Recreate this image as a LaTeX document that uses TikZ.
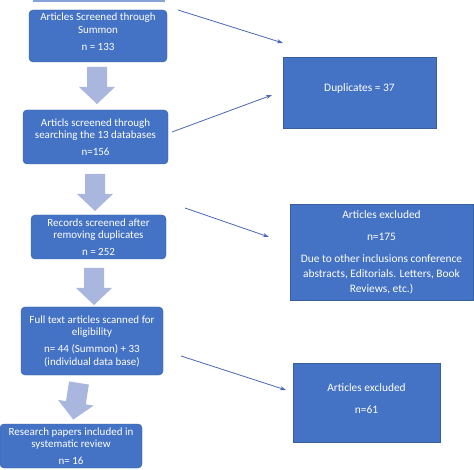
\documentclass[tikz,border=0pt]{standalone}
\usepackage{fontspec}
\setmainfont{Carlito}
\usetikzlibrary{arrows.meta}
\definecolor{boxblue}{HTML}{4472C4}
\definecolor{boxedge}{HTML}{3A5D9C}
\definecolor{arrowfill}{HTML}{A9B6DE}
\definecolor{linkblue}{HTML}{4A67B5}
\begin{document}
\begin{tikzpicture}[x=1pt,y=-1pt]

    \tikzset{
      stepbox/.style={
        draw=boxedge,
        fill=boxblue,
        text=white,
        rounded corners=4pt,
        align=center,
        inner sep=0pt,
        font=\fontsize{11}{12.5}\selectfont,
      },
      outbox/.style={
        draw=boxedge,
        fill=boxblue,
        text=white,
        align=center,
        inner sep=0pt,
        font=\fontsize{11.4}{15}\selectfont,
      },
      link/.style={
        draw=linkblue,
        line width=0.8pt,
        -{Stealth[length=6pt,width=4pt]},
      },
      downarrow/.pic={
        \fill[arrowfill] (-10,0) -- (10,0) -- (10,20) -- (18,20) -- (0,37)
          -- (-18,20) -- (-10,20) -- cycle;
      },
    }
    \useasboundingbox (0,0) rectangle (474,470);
    \fill[boxblue!65!white] (33,0) rectangle (165,2.5);

    % main column
    \node[stepbox, minimum width=138pt, minimum height=52pt] (screen) at (98,36)
      {Articles Screened through\\Summon\\[4.5pt]n = 133\\[-3.5pt]};
    \node[stepbox, minimum width=145pt, minimum height=54pt] (search) at (95.5,137)
      {Articls screened through\\searching the 13 databases\\[4.5pt]n=156};
    \node[stepbox, minimum width=135pt, minimum height=44pt] (records) at (98.5,237)
      {Records screened after\\removing duplicates\\[4.5pt]n = 252};
    \node[stepbox, minimum width=142pt, minimum height=68pt] (fulltext) at (92,341)
      {Full text articles scanned for\\eligibility\\[4.5pt]n= 44 (Summon) + 33\\(individual data base)};
    \node[stepbox, minimum width=142pt, minimum height=44pt] (included) at (71,446)
      {Research papers included in\\systematic review\\[4.5pt]n= 16};

    \pic at (97,67) {downarrow};
    \pic at (95,174) {downarrow};
    \pic at (94,268) {downarrow};
    \pic[rotate=-9] at (79,383) {downarrow};

    % side boxes
    \node[outbox, minimum width=153pt, minimum height=71pt] (dups) at (359.5,92.5)
      {Duplicates = 37\\[-6pt]};
    \node[outbox, minimum width=183pt, minimum height=96pt] (excl) at (381.5,252)
      {Articles excluded\\[7pt]n=175\\[7pt]Due to other inclusions conference\\abstracts, Editorials. Letters, Book\\Reviews, etc.)};
    \node[outbox, minimum width=147pt, minimum height=79pt] (exclft) at (366.5,402.5)
      {Articles excluded\\[7pt]n=61\\[-7pt]};

    \coordinate (s1) at (178,10);   \coordinate (e1) at (283,43);
    \coordinate (s2) at (172,132);  \coordinate (e2) at (272,95);
    \coordinate (s3) at (185,208);  \coordinate (e3) at (269,237);
    \coordinate (s4) at (181,356);  \coordinate (e4) at (286,390);
    \draw[link] (s1) -- (e1);
    \draw[link] (s2) -- (e2);
    \draw[link] (s3) -- (e3);
    \draw[link] (s4) -- (e4);

\end{tikzpicture}
\end{document}
